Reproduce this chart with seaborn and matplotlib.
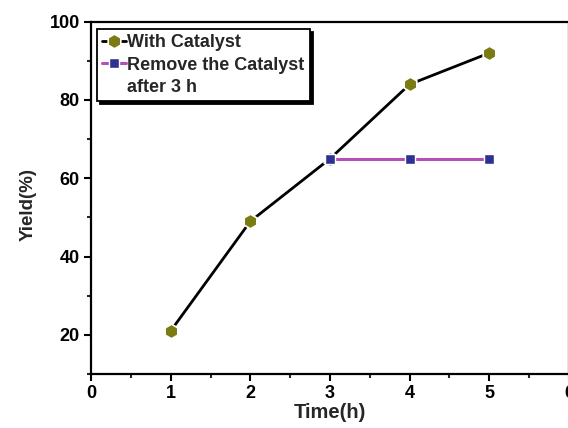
import matplotlib
matplotlib.use("Agg")
import matplotlib.pyplot as plt
import seaborn as sns
import pandas as pd
from matplotlib.ticker import MultipleLocator
from matplotlib.lines import Line2D

time_cat = [1, 2, 3, 4, 5]
yield_cat = [21, 49, 65, 84, 92]
time_rem = [3, 4, 5]
yield_rem = [65, 65, 65]
label_cat = "With Catalyst"
label_rem = "Remove the Catalyst"
label_rem_cont = "after 3 h"

sns.set_theme(style="ticks")
plt.rcParams['font.family'] = ['Liberation Sans', 'DejaVu Sans']
plt.rcParams['font.weight'] = 'bold'

fig = plt.figure(figsize=(5.68, 4.28), dpi=100)
ax = fig.add_axes([91/568, (428-374)/428, 478/568, (374-21.7)/428])

df_cat = pd.DataFrame({"t": time_cat, "y": yield_cat})
df_rem = pd.DataFrame({"t": time_rem, "y": yield_rem})

sns.lineplot(data=df_cat, x="t", y="y", ax=ax, color="black", lw=2.0,
             marker="h", markersize=10.5, markerfacecolor="#7b7b14",
             markeredgecolor="white", markeredgewidth=1.2, label=label_cat, zorder=3)
sns.lineplot(data=df_rem, x="t", y="y", ax=ax, color="#b84fb8", lw=2.2,
             marker="s", markersize=7, markerfacecolor="#2e3192",
             markeredgecolor="white", markeredgewidth=1.0, label=label_rem, zorder=4)

ax.set_xlim(0, 6)
ax.set_ylim(10, 100)
ax.xaxis.set_major_locator(MultipleLocator(1))
ax.xaxis.set_minor_locator(MultipleLocator(0.5))
ax.yaxis.set_minor_locator(MultipleLocator(10))
ax.set_yticks([20, 40, 60, 80, 100])
ax.tick_params(axis='both', which='major', direction='out', length=5, width=1.5,
               labelsize=13, colors='black', pad=3)
ax.tick_params(axis='both', which='minor', direction='out', length=3, width=1.5)
for lab in ax.get_xticklabels() + ax.get_yticklabels():
    lab.set_fontweight('bold')
for sp in ax.spines.values():
    sp.set_linewidth(1.6)
    sp.set_color('black')
    sp.set_visible(True)

ax.set_xlabel("Time(h)", fontsize=14.5, fontweight='bold', labelpad=1)
ax.set_ylabel("Yield(%)", fontsize=13.5, fontweight='bold')
ax.yaxis.set_label_coords(-0.113, 0.48)

handles, labels = ax.get_legend_handles_labels()
handles.append(Line2D([], [], color='none'))
labels.append(label_rem_cont)
leg = ax.legend(handles, labels, loc='upper left', bbox_to_anchor=(0.012, 0.98),
                frameon=True, fancybox=False, shadow={'color': 'black', 'alpha': 1},
                prop={'weight': 'bold', 'size': 13}, handlelength=1.3,
                handletextpad=0.1, borderpad=0.3, labelspacing=0.3,
                borderaxespad=0.0)
leg.get_frame().set_edgecolor('black')
leg.get_frame().set_linewidth(1.3)
leg.get_frame().set_facecolor('white')
leg.get_frame().set_alpha(1)

fig.savefig("out.png", dpi=100)
